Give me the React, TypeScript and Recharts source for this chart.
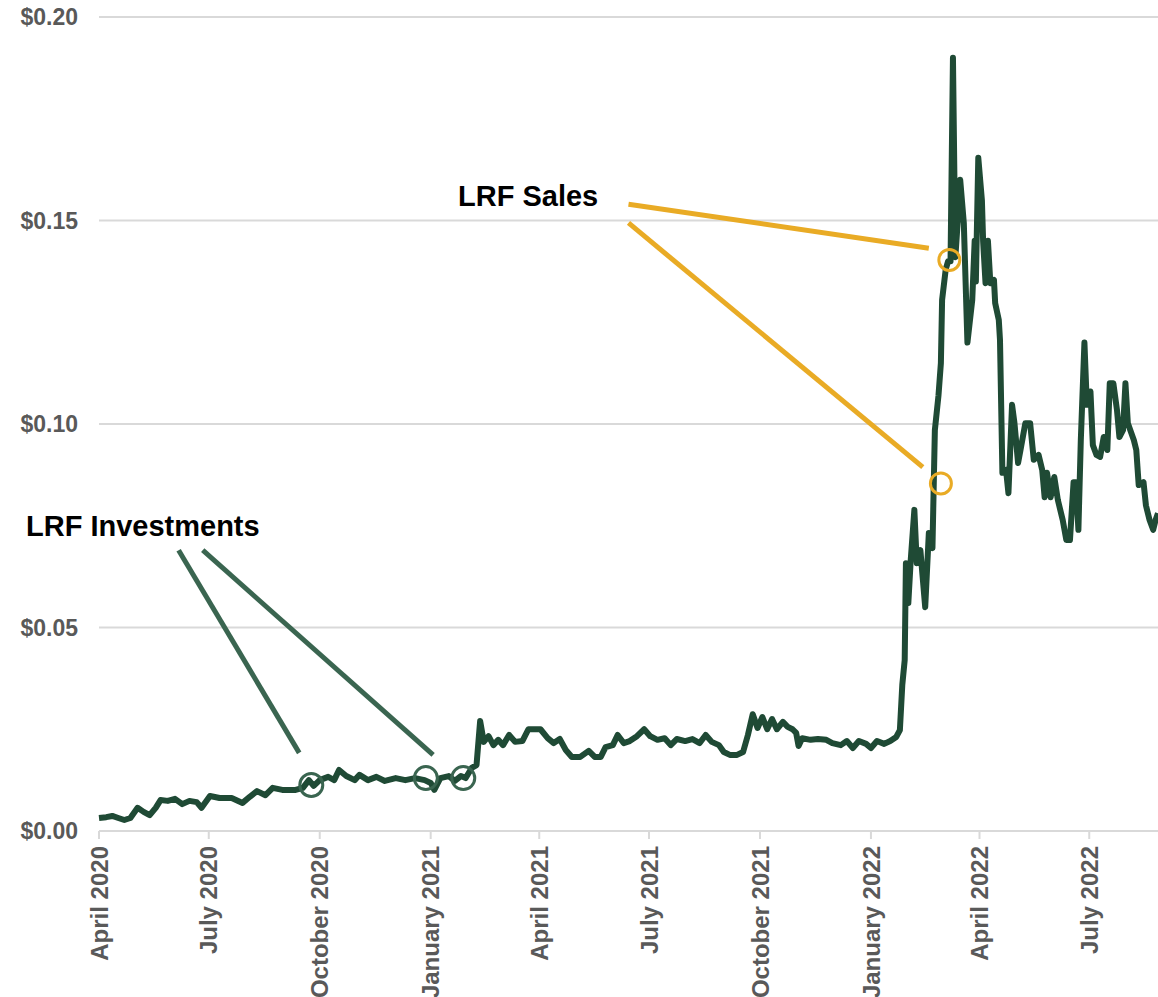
import { LineChart, Line, XAxis, YAxis, CartesianGrid, ReferenceLine, ReferenceDot } from 'recharts'

// Daily closing price, sampled off the chart
const dates = [
  '2020-04-01', '2020-04-07', '2020-04-12', '2020-04-17', '2020-04-22', '2020-04-27', '2020-05-03', '2020-05-08',
  '2020-05-13', '2020-05-18', '2020-05-22', '2020-05-28', '2020-06-03', '2020-06-09', '2020-06-15', '2020-06-21',
  '2020-06-25', '2020-07-02', '2020-07-10', '2020-07-20', '2020-07-29', '2020-08-04', '2020-08-10', '2020-08-17',
  '2020-08-23', '2020-08-31', '2020-09-11', '2020-09-17', '2020-09-22', '2020-09-26', '2020-10-01', '2020-10-08',
  '2020-10-13', '2020-10-17', '2020-10-23', '2020-10-30', '2020-11-03', '2020-11-10', '2020-11-17', '2020-11-24',
  '2020-12-03', '2020-12-11', '2020-12-19', '2020-12-27', '2021-01-01', '2021-01-04', '2021-01-09', '2021-01-16',
  '2021-01-21', '2021-01-26', '2021-01-30', '2021-02-04', '2021-02-08', '2021-02-11', '2021-02-14', '2021-02-18',
  '2021-02-22', '2021-02-26', '2021-03-02', '2021-03-07', '2021-03-12', '2021-03-18', '2021-03-23', '2021-04-02',
  '2021-04-08', '2021-04-13', '2021-04-18', '2021-04-23', '2021-04-28', '2021-05-05', '2021-05-12', '2021-05-17',
  '2021-05-22', '2021-05-26', '2021-06-01', '2021-06-05', '2021-06-10', '2021-06-15', '2021-06-21', '2021-06-27',
  '2021-07-02', '2021-07-08', '2021-07-14', '2021-07-19', '2021-07-24', '2021-07-31', '2021-08-06', '2021-08-12',
  '2021-08-17', '2021-08-22', '2021-08-28', '2021-09-01', '2021-09-06', '2021-09-12', '2021-09-17', '2021-09-21',
  '2021-09-25', '2021-09-29', '2021-10-03', '2021-10-07', '2021-10-11', '2021-10-15', '2021-10-20', '2021-10-24',
  '2021-10-28', '2021-10-31', '2021-11-02', '2021-11-05', '2021-11-12', '2021-11-18', '2021-11-25', '2021-11-30',
  '2021-12-07', '2021-12-12', '2021-12-17', '2021-12-22', '2021-12-28', '2022-01-01', '2022-01-06', '2022-01-12',
  '2022-01-17', '2022-01-22', '2022-01-25', '2022-01-27', '2022-01-29', '2022-01-30', '2022-02-01', '2022-02-03',
  '2022-02-06', '2022-02-08', '2022-02-11', '2022-02-15', '2022-02-18', '2022-02-21', '2022-02-23', '2022-02-26',
  '2022-02-28', '2022-03-01', '2022-03-04', '2022-03-06', '2022-03-08', '2022-03-10', '2022-03-12', '2022-03-14',
  '2022-03-16', '2022-03-19', '2022-03-22', '2022-03-26', '2022-03-28', '2022-03-29', '2022-03-31', '2022-04-03',
  '2022-04-04', '2022-04-06', '2022-04-08', '2022-04-10', '2022-04-13', '2022-04-14', '2022-04-17', '2022-04-18',
  '2022-04-20', '2022-04-23', '2022-04-25', '2022-04-28', '2022-04-30', '2022-05-03', '2022-05-05', '2022-05-09',
  '2022-05-13', '2022-05-16', '2022-05-20', '2022-05-23', '2022-05-25', '2022-05-27', '2022-05-30', '2022-06-02',
  '2022-06-05', '2022-06-09', '2022-06-12', '2022-06-15', '2022-06-18', '2022-06-20', '2022-06-22', '2022-06-24',
  '2022-06-27', '2022-06-29', '2022-07-02', '2022-07-04', '2022-07-07', '2022-07-10', '2022-07-13', '2022-07-16',
  '2022-07-18', '2022-07-21', '2022-07-24', '2022-07-26', '2022-07-29', '2022-07-31', '2022-08-02', '2022-08-07',
  '2022-08-09', '2022-08-11', '2022-08-15', '2022-08-17', '2022-08-20', '2022-08-23', '2022-08-25', '2022-08-27',
]

const prices = [
  0.0032, 0.0034, 0.0037, 0.0032, 0.0027, 0.0032, 0.0057, 0.0047,
  0.0039, 0.0057, 0.0076, 0.0074, 0.0079, 0.0066, 0.0074, 0.0071,
  0.0057, 0.0086, 0.0081, 0.0081, 0.0069, 0.0084, 0.0098, 0.0088,
  0.0106, 0.0101, 0.0101, 0.0106, 0.0125, 0.0111, 0.0125, 0.0133,
  0.0125, 0.015, 0.0135, 0.0125, 0.0138, 0.0125, 0.0133, 0.0123,
  0.013, 0.0125, 0.013, 0.0125, 0.0118, 0.0101, 0.013, 0.0135,
  0.0123, 0.0135, 0.013, 0.0155, 0.0162, 0.027, 0.0219, 0.0233,
  0.0211, 0.0224, 0.0211, 0.0236, 0.0219, 0.0221, 0.025, 0.025,
  0.0228, 0.0216, 0.0226, 0.0199, 0.0182, 0.0182, 0.0197, 0.0182,
  0.0182, 0.0206, 0.0211, 0.0236, 0.0216, 0.0221, 0.0233, 0.025,
  0.0233, 0.0224, 0.0228, 0.0211, 0.0226, 0.0221, 0.0226, 0.0216,
  0.0236, 0.0219, 0.0211, 0.0194, 0.0187, 0.0187, 0.0194, 0.0236,
  0.0287, 0.0253, 0.028, 0.025, 0.0275, 0.025, 0.0268, 0.0256,
  0.025, 0.0241, 0.0209, 0.0228, 0.0224, 0.0226, 0.0224, 0.0216,
  0.0211, 0.0221, 0.0204, 0.0221, 0.0214, 0.0204, 0.0221, 0.0214,
  0.0221, 0.0231, 0.0248, 0.0359, 0.042, 0.0658, 0.056, 0.0666,
  0.0789, 0.0658, 0.069, 0.055, 0.0732, 0.0695, 0.0985, 0.107,
  0.115, 0.1305, 0.138, 0.14, 0.14, 0.19, 0.141, 0.15,
  0.16, 0.1494, 0.12, 0.1305, 0.145, 0.135, 0.1654, 0.155,
  0.145, 0.1346, 0.145, 0.1346, 0.1354, 0.1297, 0.1256, 0.1206,
  0.088, 0.0887, 0.083, 0.1047, 0.1002, 0.0904, 0.0936, 0.1002,
  0.1002, 0.0912, 0.0924, 0.0887, 0.082, 0.088, 0.082, 0.087,
  0.0813, 0.0764, 0.0715, 0.0715, 0.0857, 0.0857, 0.074, 0.096,
  0.12, 0.1047, 0.108, 0.0948, 0.0924, 0.0919, 0.0968, 0.0936,
  0.11, 0.11, 0.1034, 0.0968, 0.0985, 0.11, 0.1002, 0.096,
  0.0936, 0.085, 0.0857, 0.08, 0.0764, 0.074, 0.0764, 0.0781,
]

const tickDates = [
  '2020-04-01', '2020-07-01', '2020-10-01', '2021-01-01', '2021-04-01',
  '2021-07-01', '2021-10-01', '2022-01-01', '2022-04-01', '2022-07-01',
]
const yTicks = [0, 0.05, 0.1, 0.15, 0.2]

// annotation circles and pointer lines
const investmentCircles = [
  { date: '2020-09-24', value: 0.0113 },
  { date: '2020-12-28', value: 0.013 },
  { date: '2021-01-28', value: 0.013 },
]
const salesCircles = [
  { date: '2022-03-07', value: 0.1403 },
  { date: '2022-02-28', value: 0.0854 },
]
const investmentPointers = [
  { from: ['2020-06-06', 0.069], to: ['2020-09-14', 0.0192] },
  { from: ['2020-06-26', 0.069], to: ['2021-01-03', 0.0187] },
] as const
const salesPointers = [
  { from: ['2021-06-14', 0.154], to: ['2022-02-18', 0.1432] },
  { from: ['2021-06-14', 0.1494], to: ['2022-02-13', 0.0894] },
] as const

const MONTHS = [
  'January', 'February', 'March', 'April', 'May', 'June',
  'July', 'August', 'September', 'October', 'November', 'December',
]

const FONT = '"Liberation Sans", Arial, sans-serif'
const LINE_GREEN = '#1f4a35'
const NOTE_GREEN = '#3a6550'
const NOTE_ORANGE = '#e9ab25'
const GRID = '#d9d9d9'

const t = (s: string) => Date.parse(s)

const data = dates.map((d, i) => ({ time: t(d), price: prices[i] }))

function DateTick(props: any) {
  const { x, y, payload } = props
  const d = new Date(payload.value)
  const label = `${MONTHS[d.getUTCMonth()]} ${d.getUTCFullYear()}`
  return (
    <text
      x={x}
      y={y + 5}
      transform={`rotate(-90, ${x}, ${y + 5})`}
      textAnchor="end"
      dy="0.36em"
      fill="#595959"
      fontSize={24}
      fontWeight="bold"
      fontFamily={FONT}
    >
      {label}
    </text>
  )
}

export default function App() {
  return (
    <div style={{ position: 'absolute', left: 0, top: 0, width: 1158, height: 997, overflow: 'hidden', background: '#fff' }}>
      <LineChart
        width={1158}
        height={997}
        data={data}
        margin={{ top: 17, right: 0, bottom: 0, left: 0 }}
      >
        <CartesianGrid vertical={false} stroke={GRID} strokeWidth={2} />
        <XAxis
          dataKey="time"
          type="number"
          scale="time"
          domain={[t('2020-04-01'), t('2022-08-27')]}
          ticks={tickDates.map(t)}
          interval={0}
          height={166}
          tickSize={8}
          axisLine={{ stroke: GRID, strokeWidth: 2 }}
          tickLine={{ stroke: GRID, strokeWidth: 2 }}
          tick={<DateTick />}
        />
        <YAxis
          domain={[0, 0.2]}
          ticks={yTicks}
          width={99}
          axisLine={false}
          tickLine={false}
          tickSize={0}
          tickMargin={21}
          tickFormatter={(v: number) => `$${v.toFixed(2)}`}
          tick={{ fill: '#595959', fontSize: 23, fontWeight: 'bold', fontFamily: FONT }}
        />
        <Line
          dataKey="price"
          type="linear"
          stroke={LINE_GREEN}
          strokeWidth={6}
          strokeLinejoin="round"
          dot={false}
          isAnimationActive={false}
        />
        {investmentPointers.map((p, i) => (
          <ReferenceLine
            key={`ip-${i}`}
            segment={[{ x: t(p.from[0]), y: p.from[1] }, { x: t(p.to[0]), y: p.to[1] }]}
            stroke={NOTE_GREEN}
            strokeWidth={5}
            ifOverflow="visible"
          />
        ))}
        {salesPointers.map((p, i) => (
          <ReferenceLine
            key={`sp-${i}`}
            segment={[{ x: t(p.from[0]), y: p.from[1] }, { x: t(p.to[0]), y: p.to[1] }]}
            stroke={NOTE_ORANGE}
            strokeWidth={5}
            ifOverflow="visible"
          />
        ))}
        {investmentCircles.map((c, i) => (
          <ReferenceDot
            key={`ic-${i}`}
            x={t(c.date)}
            y={c.value}
            r={11.5}
            fill="none"
            stroke={NOTE_GREEN}
            strokeWidth={3}
          />
        ))}
        {salesCircles.map((c, i) => (
          <ReferenceDot
            key={`sc-${i}`}
            x={t(c.date)}
            y={c.value}
            r={10.5}
            fill="none"
            stroke={NOTE_ORANGE}
            strokeWidth={3}
          />
        ))}
      </LineChart>
      <div style={{ position: 'absolute', left: 458, top: 182, fontFamily: FONT, fontWeight: 'bold', fontSize: 29, lineHeight: '29px', color: '#000', whiteSpace: 'nowrap' }}>
        LRF Sales
      </div>
      <div style={{ position: 'absolute', left: 26, top: 512, fontFamily: FONT, fontWeight: 'bold', fontSize: 29, lineHeight: '29px', color: '#000', whiteSpace: 'nowrap' }}>
        LRF Investments
      </div>
    </div>
  )
}
